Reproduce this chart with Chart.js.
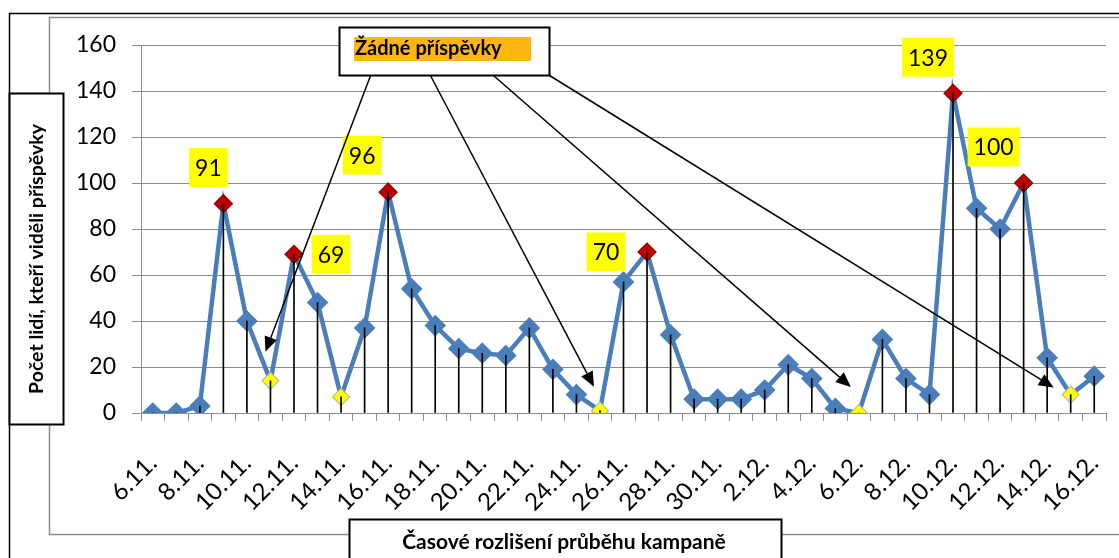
<!DOCTYPE html>
<html>
<head>
<meta charset="utf-8">
<script src="https://cdn.jsdelivr.net/npm/chart.js@4.4.1/dist/chart.umd.min.js"></script>
<style>
  html, body { margin: 0; padding: 0; background: #fff; }
  #wrap { width: 1119px; height: 558px; }
</style>
</head>
<body>
<div id="wrap"><canvas id="chart" width="1119" height="558"></canvas></div>
<script>
const days = [
  '6.11.', '7.11.', '8.11.', '9.11.', '10.11.', '11.11.', '12.11.', '13.11.', '14.11.', '15.11.',
  '16.11.', '17.11.', '18.11.', '19.11.', '20.11.', '21.11.', '22.11.', '23.11.', '24.11.', '25.11.',
  '26.11.', '27.11.', '28.11.', '29.11.', '30.11.', '1.12.', '2.12.', '3.12.', '4.12.', '5.12.',
  '6.12.', '7.12.', '8.12.', '9.12.', '10.12.', '11.12.', '12.12.', '13.12.', '14.12.', '15.12.',
  '16.12.'
]
const viewers = [
  0, 0, 3, 91, 40, 14, 69, 48, 7, 37,
  96, 54, 38, 28, 26, 25, 37, 19, 8, 1,
  57, 70, 34, 6, 6, 6, 10, 21, 15, 2,
  0, 32, 15, 8, 139, 89, 80, 100, 24, 8,
  16
]
// days with the highest reach (labelled) and days without any post
const peakDays = [3, 6, 10, 21, 34, 37]
const noPostDays = [5, 8, 19, 30, 39]
// no-post days the callout points at
const calloutDays = [5, 19, 30, 39]

const yTicks = { min: 0, max: 160, step: 20 }

const yAxisTitle = 'Počet lidí, kteří viděli příspěvky'
const xAxisTitle = 'Časové rozlišení průběhu kampaně'
const calloutText = 'Žádné příspěvky'

const BLUE = '#4a7ebb'
const RED = '#c00000'
const YELLOW = '#ffff00'
const GRID = '#8c8c8c'
const FONT = 'Lato, "Open Sans", sans-serif'

const pointFill = viewers.map((v, i) => peakDays.includes(i) ? RED : noPostDays.includes(i) ? YELLOW : BLUE)
const pointBorder = viewers.map((v, i) => peakDays.includes(i) ? '#8b0000' : noPostDays.includes(i) ? '#b8b8a0' : BLUE)
const pointSize = viewers.map((v, i) => peakDays.includes(i) ? 9 : noPostDays.includes(i) ? 8.5 : 10)

// label box placement next to each peak (px offset of box centre from point)
const labelOffsets = { 3: [-15, -36], 6: [37, 0], 10: [-26, -37], 21: [-41, 0], 34: [-25, -36], 37: [-30, -36] }
// arrow tip offset from the pointed-at marker (px)
const arrowTips = { 5: [-5, -29], 19: [-6, -24], 30: [-8, -26], 39: [-17, -7] }

function box(ctx, x, y, w, h, lw) {
  ctx.fillStyle = '#fff'
  ctx.fillRect(x, y, w, h)
  ctx.strokeStyle = '#000'
  ctx.lineWidth = lw
  ctx.strokeRect(x, y, w, h)
}

function arrow(ctx, x1, y1, x2, y2) {
  const a = Math.atan2(y2 - y1, x2 - x1)
  const len = 15, half = 6.5
  const bx = x2 - Math.cos(a) * len, by = y2 - Math.sin(a) * len
  ctx.strokeStyle = '#000'
  ctx.lineWidth = 1.5
  ctx.beginPath()
  ctx.moveTo(x1, y1)
  ctx.lineTo(bx, by)
  ctx.stroke()
  ctx.fillStyle = '#000'
  ctx.beginPath()
  ctx.moveTo(x2, y2)
  ctx.lineTo(bx - Math.sin(a) * half, by + Math.cos(a) * half)
  ctx.lineTo(bx + Math.sin(a) * half, by - Math.cos(a) * half)
  ctx.closePath()
  ctx.fill()
}

const decorations = {
  id: 'decorations',
  beforeDraw(chart) {
    const ctx = chart.ctx
    ctx.save()
    ctx.fillStyle = '#fff'
    ctx.fillRect(0, 0, chart.width, chart.height)
    // outer frame of the chart object
    ctx.strokeStyle = '#000'
    ctx.lineWidth = 1.5
    ctx.strokeRect(9.5, 13.5, 1300, 800)
    // plot area frame
    ctx.strokeStyle = GRID
    ctx.lineWidth = 1.5
    ctx.strokeRect(49.5, 17.5, 1300, 517)
    ctx.restore()
  },
  afterDatasetsDraw(chart) {
    const ctx = chart.ctx
    const pts = chart.getDatasetMeta(1).data
    ctx.save()
    ctx.font = '23px ' + FONT
    ctx.textAlign = 'center'
    ctx.textBaseline = 'middle'
    peakDays.forEach(i => {
      const p = pts[i]
      const off = labelOffsets[i] || [0, -36]
      const txt = String(viewers[i])
      const w = ctx.measureText(txt).width + 12
      const h = 39
      const cx = p.x + off[0], cy = p.y + off[1]
      ctx.fillStyle = YELLOW
      ctx.fillRect(cx - w / 2, cy - h / 2, w, h)
      ctx.fillStyle = '#000'
      ctx.fillText(txt, cx, cy + 1)
    })
    ctx.restore()
  },
  afterDraw(chart) {
    const ctx = chart.ctx
    const pts = chart.getDatasetMeta(1).data
    ctx.save()

    // y axis title
    box(ctx, 9.5, 93.5, 54, 331, 2)
    ctx.save()
    ctx.translate(37, 259)
    ctx.rotate(-Math.PI / 2)
    ctx.fillStyle = '#000'
    ctx.font = 'bold 19.5px ' + FONT
    ctx.textAlign = 'center'
    ctx.textBaseline = 'middle'
    ctx.fillText(yAxisTitle, 0, 0)
    ctx.restore()

    // x axis title
    box(ctx, 349.5, 519.5, 432, 60, 2)
    ctx.fillStyle = '#000'
    ctx.font = 'bold 21px ' + FONT
    ctx.textAlign = 'center'
    ctx.textBaseline = 'middle'
    ctx.fillText(xAxisTitle, 564, 542)

    // callout
    const bx = 339.5, by = 27.5, bw = 210, bh = 48
    box(ctx, bx, by, bw, bh, 2)
    ctx.fillStyle = '#ffb612'
    ctx.fillRect(354, 37, 177, 24)
    ctx.fillStyle = '#000'
    ctx.font = 'bold 20px ' + FONT
    ctx.textAlign = 'left'
    ctx.fillText(calloutText, 355, 49)

    const starts = [0.148, 0.433, 0.733, 1.0]
    calloutDays.forEach((d, k) => {
      const p = pts[d]
      const tip = arrowTips[d]
      arrow(ctx, bx + bw * starts[k], by + bh, p.x + tip[0], p.y + tip[1])
    })
    ctx.restore()
  }
}

new Chart(document.getElementById('chart'), {
  data: {
    labels: days,
    datasets: [
      {
        type: 'bar',
        label: 'drop lines',
        data: viewers,
        backgroundColor: '#000',
        barThickness: 1,
        order: 0
      },
      {
        type: 'line',
        label: 'viewers',
        data: viewers,
        borderColor: BLUE,
        borderWidth: 4.5,
        tension: 0,
        pointStyle: 'rectRot',
        pointRadius: pointSize,
        pointBackgroundColor: pointFill,
        pointBorderColor: pointBorder,
        pointBorderWidth: 1.2,
        order: 1
      }
    ]
  },
  options: {
    responsive: false,
    animation: false,
    layout: { padding: { top: 45, right: 13, left: 0, bottom: 0 } },
    plugins: {
      legend: { display: false },
      tooltip: { enabled: false }
    },
    scales: {
      x: {
        offset: true,
        grid: { offset: true, drawOnChartArea: false, tickLength: 8, color: GRID },
        border: { color: GRID },
        ticks: {
          autoSkip: false,
          minRotation: 45,
          maxRotation: 45,
          padding: 28,
          color: '#000',
          font: { family: FONT, size: 24 },
          callback: (v, i) => i % 2 === 0 ? days[i] : ''
        },
        afterFit: s => {
          s.height = 145
          s.paddingLeft = 0
          s.paddingRight = 0
        }
      },
      y: {
        min: yTicks.min,
        max: yTicks.max,
        ticks: { stepSize: yTicks.step, padding: 16, color: '#000', font: { family: FONT, size: 23 } },
        grid: { color: GRID, tickLength: 9 },
        border: { color: GRID },
        afterFit: s => { s.width = 141 }
      }
    }
  },
  plugins: [decorations]
})
</script>
</body>
</html>
